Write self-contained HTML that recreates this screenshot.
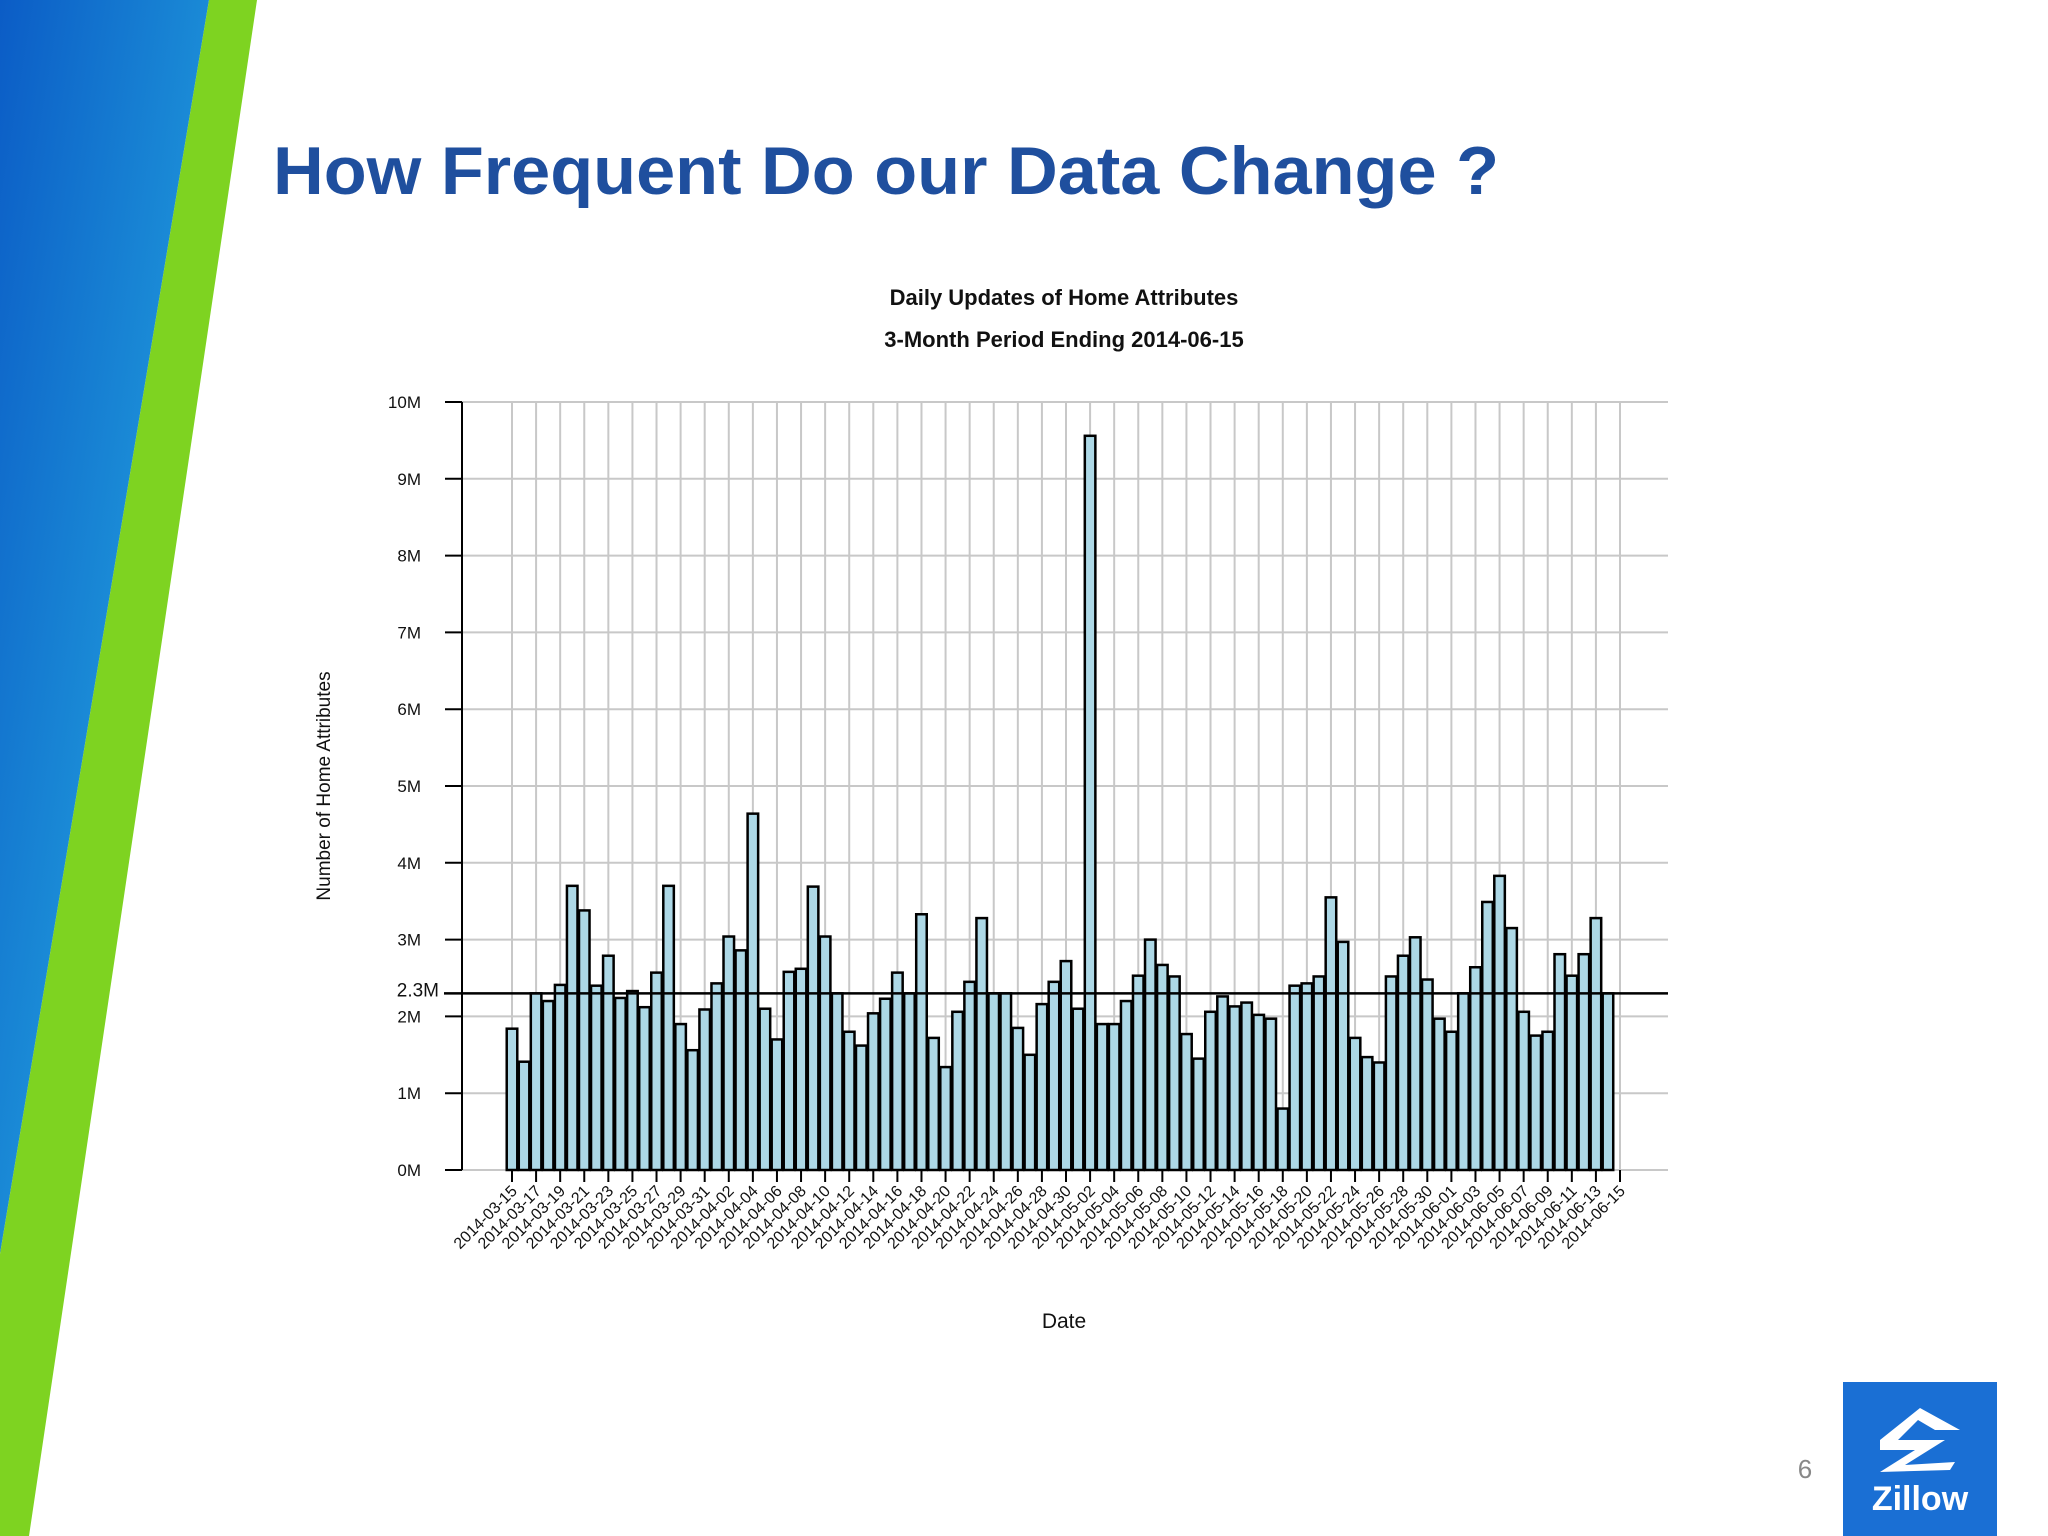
<!DOCTYPE html>
<html><head><meta charset="utf-8"><style>
html,body{margin:0;padding:0;background:#fff;}
svg{display:block;}
</style></head><body>
<svg id="slide" width="2048" height="1536" viewBox="0 0 2048 1536" xmlns="http://www.w3.org/2000/svg" font-family="'Liberation Sans', sans-serif">
<defs>
<linearGradient id="bg" x1="0" y1="0" x2="1" y2="1">
<stop offset="0" stop-color="#0b5cc6"/><stop offset="0.5" stop-color="#1a8ad6"/><stop offset="1" stop-color="#0e4fa8"/>
</linearGradient>
</defs>
<polygon points="0,0 209,0 0,1254" fill="url(#bg)"/>
<polygon points="209,0 257,0 29,1536 0,1536 0,1254" fill="#7ed321"/>
<text x="273" y="194" font-size="68" font-weight="bold" fill="#1f4f9e" textLength="1226" lengthAdjust="spacingAndGlyphs">How Frequent Do our Data Change ?</text>
<text x="1064" y="305" font-size="22" font-weight="bold" text-anchor="middle" fill="#111">Daily Updates of Home Attributes</text>
<text x="1064" y="347" font-size="22" font-weight="bold" text-anchor="middle" fill="#111">3-Month Period Ending 2014-06-15</text>
<text x="1064" y="1328" font-size="21" text-anchor="middle" fill="#111">Date</text>
<text transform="translate(330,786) rotate(-90)" font-size="19" text-anchor="middle" fill="#111">Number of Home Attributes</text>
<g id="chart"></g>
<text x="1805" y="1478" font-size="26" fill="#888" text-anchor="middle">6</text>
<rect x="1843" y="1382" width="154" height="154" fill="#1a6fd4"/>
<polygon points="1880,1440 1920,1408 1960,1430 1935,1430 1918,1420 1898,1440 1945,1440 1905,1465 1955,1462 1950,1470 1880,1472 1915,1450 1880,1450" fill="#fff"/>
<text x="1920" y="1510" font-size="34" font-weight="bold" fill="#fff" text-anchor="middle">Zillow</text>
</svg>
<script>
const dates = [];
(function(){const d0=new Date(Date.UTC(2014,2,15));for(let i=0;i<93;i++){const d=new Date(d0.getTime()+i*86400000);dates.push(d.toISOString().slice(0,10));}})();
const values = [1.84,1.41,2.3,2.2,2.41,3.7,3.38,2.4,2.79,2.24,2.33,2.12,2.57,3.7,1.9,1.56,2.09,2.43,3.04,2.86,4.64,2.1,1.7,2.58,2.62,3.69,3.04,2.3,1.8,1.62,2.04,2.23,2.57,2.3,3.33,1.72,1.34,2.06,2.45,3.28,2.3,2.3,1.85,1.5,2.16,2.45,2.72,2.1,9.56,1.9,1.9,2.2,2.53,3.0,2.67,2.52,1.77,1.45,2.06,2.26,2.13,2.18,2.02,1.97,0.8,2.4,2.43,2.52,3.55,2.97,1.72,1.47,1.4,2.52,2.79,3.03,2.48,1.97,1.8,2.3,2.64,3.49,3.83,3.15,2.06,1.75,1.8,2.81,2.53,2.81,3.28,2.3];
const yTicks = [0,1,2,3,4,5,6,7,8,9,10];
const meanValue = 2.3;
const meanLabel = "2.3M";

const NS="http://www.w3.org/2000/svg";
const g=document.getElementById('chart');
const X0=512, DX=(1620-512)/92, Y0=1170, Y10=402;
const xs=i=>X0+i*DX;
const ys=v=>Y0-(v/10)*(Y0-Y10);
function mk(t,a){const e=document.createElementNS(NS,t);for(const k in a)e.setAttribute(k,a[k]);g.appendChild(e);return e;}
// horizontal grid
yTicks.forEach(v=>{
  const l=mk('line',{x1:462,x2:1668,y1:ys(v),y2:ys(v),stroke:'#c8c8c8','stroke-width':2});
  
  
  const t=mk('line',{x1:445,x2:462,y1:ys(v),y2:ys(v),stroke:'#000','stroke-width':2});
  
  
  const tx=mk('text',{x:421,y:ys(v)+6,'font-size':17,'text-anchor':'end',fill:'#111'});
  tx.textContent=v+'M';
  
  
});
// vertical grid + x labels every 2 days
for(let i=0;i<dates.length;i+=2){
  const x=xs(i);
  const l=mk('line',{x1:x,x2:x,y1:Y10,y2:Y0,stroke:'#c8c8c8','stroke-width':2});
  
  
  const t=mk('line',{x1:x,x2:x,y1:Y0,y2:Y0+12,stroke:'#000','stroke-width':2});
  
  
  const tx=mk('text',{x:0,y:0,'font-size':16,'text-anchor':'end',fill:'#111',transform:`translate(${x+6},${Y0+22}) rotate(-45)`});
  tx.textContent=dates[i];
  
  
}
// y axis
const ax=mk('line',{x1:462,x2:462,y1:Y10,y2:Y0,stroke:'#000','stroke-width':2});


// bars
values.forEach((v,i)=>{
  const w=DX-1.5;
  const r=mk('rect',{x:xs(i)-w/2,y:ys(v),width:w,height:Y0-ys(v),fill:'#add8e6',stroke:'#000','stroke-width':2.5});
  
  
});
// mean line
const m=mk('line',{x1:444,x2:1668,y1:ys(meanValue),y2:ys(meanValue),stroke:'#000','stroke-width':2.5});


const ml=mk('text',{x:439,y:ys(meanValue)+3,'font-size':19,'text-anchor':'end',fill:'#111'});
ml.textContent=meanLabel;


</script>
</body></html>
